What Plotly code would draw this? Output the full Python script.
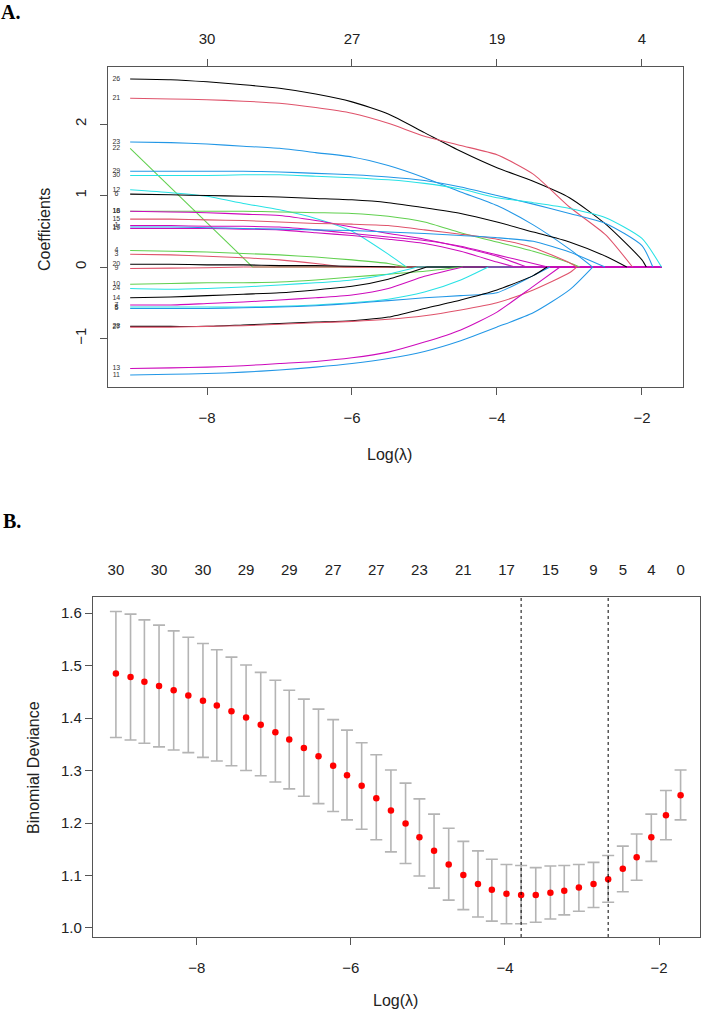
import plotly.graph_objects as go

# ---------------- Panel A : coefficient paths ----------------
knots = [-9.06, -8.5, -8.0, -7.5, -7.0, -6.5, -6.0, -5.5, -5.0, -4.5, -4.0, -3.5, -3.0, -2.5, -2.0]
lam_max = -1.73

c26 = [2.63, 2.62, 2.59, 2.55, 2.50, 2.42, 2.31, 2.14, 1.88, 1.62, 1.39, 1.20, 0.97, 0.60, 0.10]
c21 = [2.36, 2.35, 2.34, 2.32, 2.29, 2.23, 2.15, 2.01, 1.83, 1.70, 1.57, 1.30, 0.84, 0.45]
c23 = [1.75, 1.74, 1.72, 1.69, 1.66, 1.60, 1.54, 1.42, 1.25, 1.05, 0.86, 0.59, 0.25]
c22 = [1.66]
c29 = [1.34, 1.34, 1.34, 1.34, 1.33, 1.31, 1.29, 1.26, 1.21, 1.12, 1.00, 0.88, 0.75, 0.61, 0.30]
c30 = [1.28, 1.28, 1.28, 1.29, 1.29, 1.27, 1.25, 1.22, 1.17, 1.09, 0.97, 0.90, 0.82, 0.69, 0.40]
c12 = [1.08, 1.04, 0.99, 0.89, 0.80, 0.68, 0.50, 0.18]
c6 = [1.02, 1.01, 1.00, 0.99, 0.98, 0.96, 0.94, 0.90, 0.83, 0.75, 0.63, 0.49, 0.35, 0.15]
c16 = [0.78, 0.78, 0.78, 0.78, 0.77, 0.76, 0.75, 0.71, 0.63, 0.48, 0.35, 0.22, 0.06]
c18 = [0.78, 0.77, 0.76, 0.74, 0.72, 0.65, 0.56, 0.47, 0.39, 0.28, 0.15]
c15 = [0.67, 0.67, 0.66, 0.65, 0.63, 0.61, 0.60, 0.58, 0.52, 0.46, 0.39, 0.27, 0.06]
c1 = [0.58, 0.58, 0.57, 0.57, 0.56, 0.52, 0.47, 0.42, 0.37, 0.29, 0.17, 0.05]
c19 = [0.54, 0.54, 0.54, 0.53, 0.52, 0.48, 0.44, 0.39, 0.33, 0.22, 0.07]
c17 = [0.56, 0.56, 0.55, 0.54, 0.53, 0.52, 0.51, 0.49, 0.47, 0.44, 0.41, 0.36, 0.21]
c4 = [0.23, 0.22, 0.21, 0.19, 0.17, 0.14, 0.10, 0.05]
c3 = [0.18, 0.17, 0.15, 0.13, 0.10, 0.05]
c20 = [0.04, 0.04, 0.03, 0.03, 0.02, 0.02, 0.01, 0.005]
c9 = [-0.02, -0.015, -0.01]
c10 = [-0.24, -0.23, -0.22, -0.22, -0.21, -0.18, -0.14, -0.10, -0.06]
c24 = [-0.30, -0.31, -0.30, -0.28, -0.25, -0.22, -0.18, -0.10]
c14 = [-0.43, -0.42, -0.40, -0.38, -0.36, -0.32, -0.27, -0.17]
c7 = [-0.53, -0.53, -0.51, -0.49, -0.46, -0.43, -0.39, -0.30, -0.13]
c8 = [-0.56, -0.56, -0.56, -0.56, -0.55, -0.53, -0.50, -0.45, -0.35, -0.18]
c5 = [-0.58, -0.58, -0.58, -0.57, -0.56, -0.54, -0.51, -0.47, -0.43, -0.40, -0.36, -0.12]
c28 = [-0.83, -0.83, -0.83, -0.81, -0.79, -0.77, -0.75, -0.70, -0.58, -0.46, -0.32, -0.12]
c27 = [-0.84, -0.84, -0.83, -0.82, -0.80, -0.78, -0.76, -0.73, -0.68, -0.60, -0.50, -0.32, -0.08]
c13 = [-1.42, -1.41, -1.40, -1.38, -1.35, -1.32, -1.27, -1.19, -1.05, -0.88, -0.63, -0.27]
c11 = [-1.51, -1.50, -1.49, -1.47, -1.44, -1.40, -1.35, -1.28, -1.18, -1.03, -0.84, -0.64, -0.32]

coef_rows = [c26, c21, c23, c22, c29, c30, c12, c6, c16, c18, c15, c1, c19, c17, c4, c3, c20, c9,
             c10, c24, c14, c7, c8, c5, c28, c27, c13, c11]
var_labels = ["26", "21", "23", "22", "29", "30", "12", "6", "16", "18", "15", "1", "19", "17", "4", "3", "20", "9",
              "10", "24", "14", "7", "8", "5", "28", "27", "13", "11"]
var_exit = [-1.94, -2.13, -2.68, -7.37, -1.85, -1.73, -5.25, -2.21, -2.86, -3.59, -2.90, -3.30, -3.75, -2.51,
            -5.25, -6.10, -5.40, -7.50, -4.47, -5.10, -4.97, -4.47, -4.12, -3.27, -3.31, -2.90, -3.13, -2.68]

BLK, RED, GRN, BLU, CYN, MAG = "#000000", "#DF536B", "#61D04F", "#2297E6", "#28E2E5", "#CD0BBC"
var_colors = [BLK, RED, BLU, GRN, BLU, CYN, CYN, BLK, GRN, MAG, RED, MAG, MAG, BLU, GRN, RED, BLK, RED,
              GRN, CYN, BLK, MAG, CYN, BLU, BLK, RED, MAG, BLU]

top_ticks = [-8, -6, -4, -2]
top_df = ["30", "27", "19", "4"]

# ---------------- Panel B : cross-validation curve ----------------
lam_cv = [-9.05, -8.86, -8.68, -8.49, -8.30, -8.11, -7.92, -7.74, -7.55, -7.36,
          -7.17, -6.98, -6.80, -6.61, -6.42, -6.23, -6.05, -5.86, -5.67, -5.48,
          -5.29, -5.11, -4.92, -4.73, -4.54, -4.35, -4.17, -3.98, -3.79, -3.60,
          -3.41, -3.23, -3.04, -2.85, -2.66, -2.47, -2.29, -2.10, -1.91, -1.72]
cvm = [1.485, 1.478, 1.469, 1.461, 1.453, 1.443, 1.433, 1.424, 1.413, 1.401,
       1.387, 1.373, 1.359, 1.343, 1.327, 1.309, 1.291, 1.271, 1.247, 1.224,
       1.199, 1.173, 1.147, 1.121, 1.101, 1.084, 1.073, 1.065, 1.063, 1.063,
       1.067, 1.071, 1.077, 1.084, 1.093, 1.113, 1.135, 1.173, 1.215, 1.253]
cvup = [1.603, 1.598, 1.587, 1.577, 1.566, 1.554, 1.542, 1.530, 1.516, 1.501,
        1.487, 1.472, 1.453, 1.436, 1.417, 1.397, 1.377, 1.353, 1.330, 1.301,
        1.276, 1.246, 1.217, 1.190, 1.165, 1.147, 1.131, 1.121, 1.119, 1.115,
        1.118, 1.119, 1.121, 1.125, 1.138, 1.156, 1.179, 1.217, 1.262, 1.301]
cvlo = [1.363, 1.358, 1.352, 1.345, 1.339, 1.334, 1.325, 1.318, 1.309, 1.300,
        1.290, 1.278, 1.265, 1.251, 1.237, 1.222, 1.206, 1.188, 1.168, 1.145,
        1.123, 1.099, 1.076, 1.053, 1.035, 1.021, 1.013, 1.008, 1.008, 1.011,
        1.017, 1.025, 1.032, 1.039, 1.049, 1.069, 1.091, 1.127, 1.168, 1.206]
nz_idx = [0, 3, 6, 9, 12, 15, 18, 21, 24, 27, 30, 33, 35, 37, 39]
nz_text = ["30", "30", "30", "29", "29", "27", "27", "23", "21", "17", "15", "9", "5", "4", "0"]
idx_min, idx_1se = 28, 34

FONT = "Liberation Sans, Arial, sans-serif"
AX = "#555555"

fig = go.Figure()

# flat (zero) part of each path, drawn first; magenta ones last so they sit on top like the reference
zero_order = sorted(range(len(coef_rows)), key=lambda k: var_colors[k] == MAG)
for k in zero_order:
    if var_exit[k] < lam_max:
        fig.add_trace(go.Scatter(x=[var_exit[k], lam_max], y=[0.0, 0.0], mode="lines",
                                 line=dict(color=var_colors[k], width=1.05),
                                 xaxis="x", yaxis="y", hoverinfo="skip", showlegend=False))

# curved part of each path, up to the point where the coefficient reaches zero
for ys, ex, col in zip(coef_rows, var_exit, var_colors):
    xs = knots[:len(ys)] + [ex]
    yy = list(ys) + [0.0]
    fig.add_trace(go.Scatter(x=xs, y=yy, mode="lines",
                             line=dict(color=col, width=1.05, shape="spline" if len(xs) > 2 else "linear",
                                       smoothing=0.6),
                             xaxis="x", yaxis="y", hoverinfo="skip", showlegend=False))

# left-hand variable labels
fig.add_trace(go.Scatter(x=[-9.25] * len(coef_rows), y=[r[0] for r in coef_rows], text=var_labels, mode="text",
                         textfont=dict(size=7, color="#333333", family=FONT), xaxis="x", yaxis="y",
                         hoverinfo="skip", showlegend=False))
fig.add_trace(go.Scatter(x=[top_ticks[0]], y=[0], mode="markers", marker=dict(opacity=0), xaxis="x3", yaxis="y",
                         hoverinfo="skip", showlegend=False))

# CV curve
fig.add_trace(go.Scatter(
    x=lam_cv, y=cvm, mode="markers", xaxis="x2", yaxis="y2",
    marker=dict(color="#FF0000", size=6.5),
    error_y=dict(type="data", symmetric=False,
                 array=[u - m for u, m in zip(cvup, cvm)],
                 arrayminus=[m - l for m, l in zip(cvm, cvlo)],
                 color="#B4B4B4", thickness=1.6, width=6),
    hoverinfo="skip", showlegend=False))
fig.add_trace(go.Scatter(x=[lam_cv[0]], y=[cvm[0]], mode="markers", marker=dict(opacity=0), xaxis="x4", yaxis="y2",
                         hoverinfo="skip", showlegend=False))

for i in (idx_min, idx_1se):
    fig.add_shape(type="line", xref="x2", yref="y2 domain", x0=lam_cv[i], x1=lam_cv[i], y0=0, y1=1,
                  line=dict(color="black", width=1, dash="dot"))

common = dict(showgrid=False, zeroline=False, showline=True, linecolor=AX, linewidth=1.3, mirror=True,
              ticks="outside", ticklen=7, tickcolor=AX, tickwidth=1.2,
              tickfont=dict(family=FONT, size=15, color="#222222"))

fig.update_layout(
    width=709, height=1019, margin=dict(l=0, r=0, t=0, b=0),
    paper_bgcolor="white", plot_bgcolor="white", showlegend=False,
    xaxis=dict(domain=[0.1523, 0.9633], anchor="y", range=[-9.366, -1.434], tickvals=top_ticks,
               ticklabelstandoff=10, **common),
    yaxis=dict(domain=[0.6202, 0.9342], anchor="x", range=[-1.678, 2.797], tickvals=[-1, 0, 1, 2],
               tickangle=-90, ticklabelstandoff=8, **common),
    xaxis3=dict(overlaying="x", side="top", anchor="y", range=[-9.366, -1.434], tickvals=top_ticks,
                ticktext=top_df, showgrid=False, zeroline=False, showline=False, ticks="outside", ticklen=7,
                tickcolor=AX, tickwidth=1.2, ticklabelstandoff=9,
                tickfont=dict(family=FONT, size=15, color="#222222")),
    xaxis2=dict(domain=[0.1312, 0.9873], anchor="y2", range=[-9.347, -1.468], tickvals=[-8, -6, -4, -2],
                ticklabelstandoff=10, **common),
    yaxis2=dict(domain=[0.0805, 0.4141], anchor="x2", range=[0.9829, 1.6305],
                tickvals=[1.0, 1.1, 1.2, 1.3, 1.4, 1.5, 1.6], tickformat=".1f", **common),
    xaxis4=dict(overlaying="x2", side="top", anchor="y2", range=[-9.347, -1.468],
                tickvals=[lam_cv[i] for i in nz_idx], ticktext=nz_text, showgrid=False, zeroline=False,
                showline=False, ticks="", ticklabelstandoff=18,
                tickfont=dict(family=FONT, size=15, color="#222222")),
)

ann = [
    dict(text="<b>A.</b>", x=0.0155, y=0.988, font=dict(family="Liberation Serif", size=20, color="black"), textangle=0),
    dict(text="<b>B.</b>", x=0.017, y=0.4887, font=dict(family="Liberation Serif", size=20, color="black"), textangle=0),
    dict(text="Log(λ)", x=0.550, y=0.5535, font=dict(family=FONT, size=16, color="#222222"), textangle=0),
    dict(text="Log(λ)", x=0.5585, y=0.0177, font=dict(family=FONT, size=16, color="#222222"), textangle=0),
    dict(text="Coefficients", x=0.0635, y=0.7743, font=dict(family=FONT, size=16, color="#222222"), textangle=-90),
    dict(text="Binomial Deviance", x=0.0465, y=0.2473, font=dict(family=FONT, size=16, color="#222222"), textangle=-90),
]
for a in ann:
    fig.add_annotation(xref="paper", yref="paper", showarrow=False, xanchor="center", yanchor="middle", **a)

fig.write_html("out.html")
